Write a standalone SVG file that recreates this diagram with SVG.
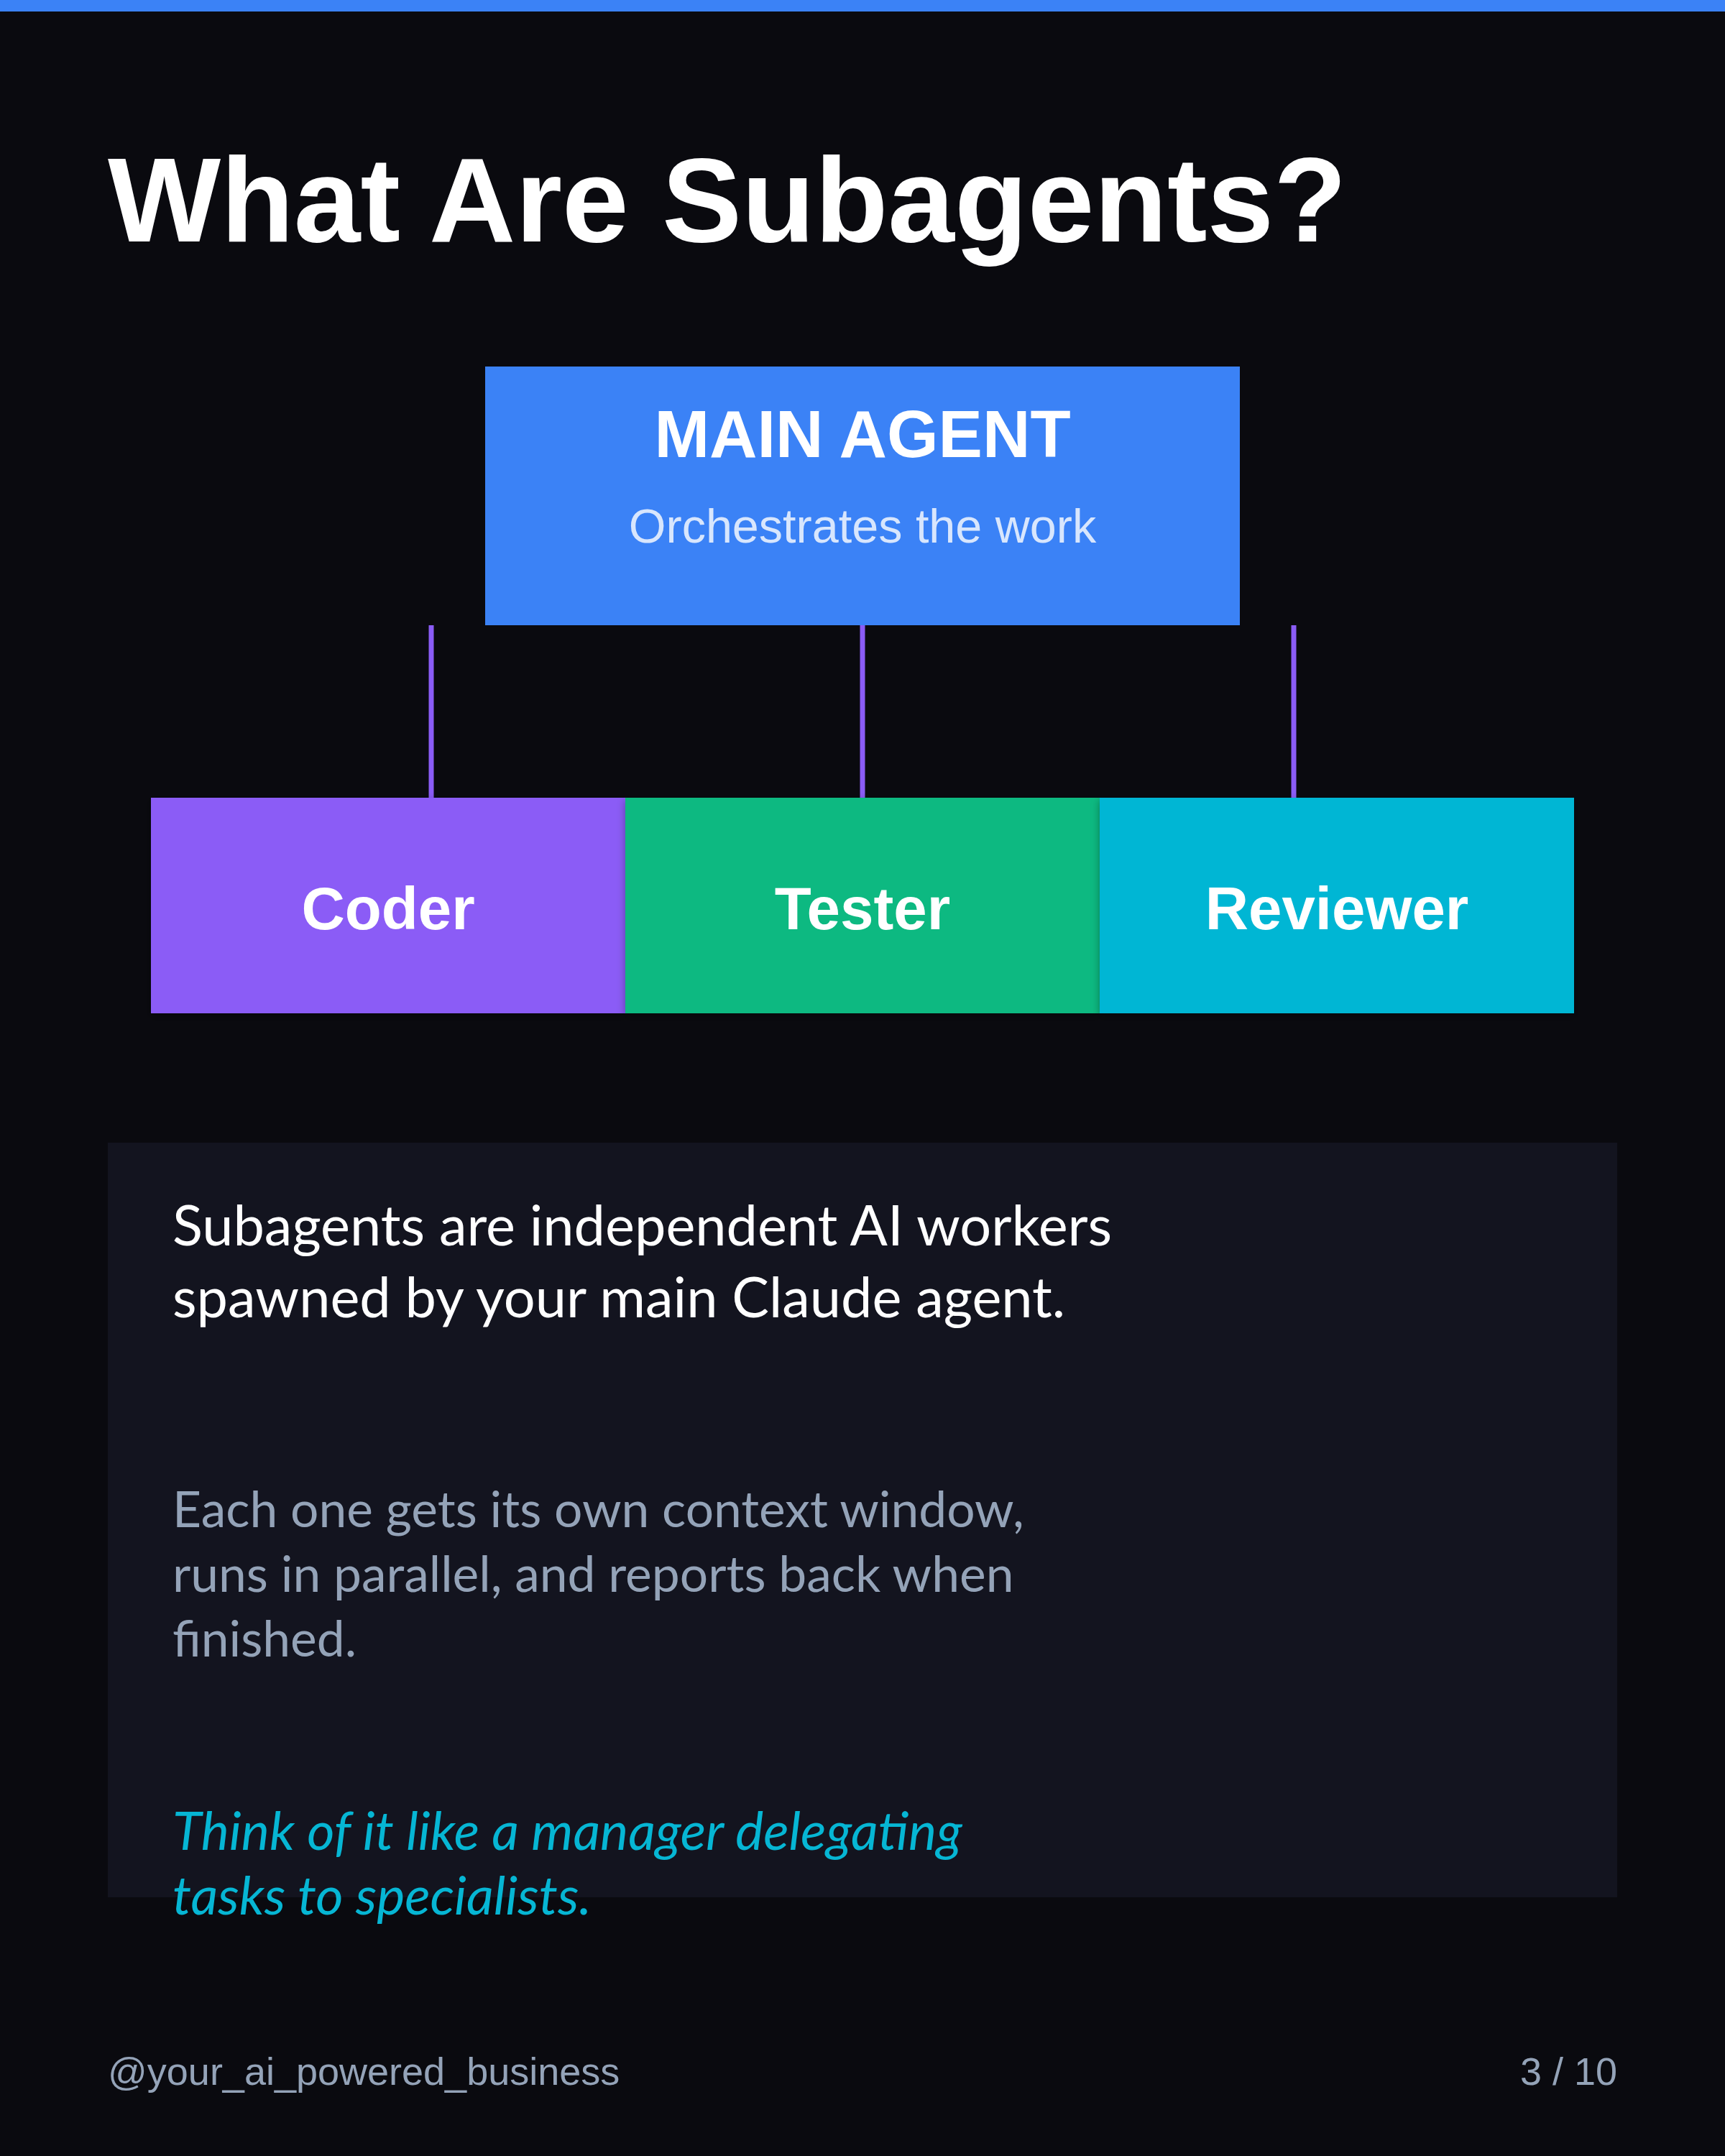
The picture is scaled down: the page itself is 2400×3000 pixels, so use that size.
<svg xmlns="http://www.w3.org/2000/svg" width="2400" height="3000" viewBox="0 0 2400 3000">
  <defs>
    <filter id="shadow" x="-10%" y="-10%" width="120%" height="130%">
      <feDropShadow dx="0" dy="4" stdDeviation="6" flood-color="#000000" flood-opacity="0.35"/>
    </filter>
    <style>
      .sans { font-family: "Liberation Sans", Arial, sans-serif; }
      .lato { font-family: Lato, "Noto Sans", sans-serif; }
      .title { font-weight: 700; font-size: 166.5px; fill: #ffffff; }
      .main-title { font-weight: 700; font-size: 92px; fill: #ffffff; }
      .main-sub { font-size: 66.5px; fill: #d8e6fd; }
      .sub-label { font-weight: 700; font-size: 83.5px; fill: #ffffff; }
      .conn { stroke: #8b5cf6; stroke-width: 7; fill: none; }
      .body1 { font-size: 77.5px; fill: #ffffff; }
      .body2 { font-size: 69.5px; fill: #94a3b8; }
      .body3 { font-size: 73.8px; fill: #06b6d4; font-style: italic; }
      .footer { font-size: 54px; fill: #94a3b8; }
    </style>
  </defs>

  <rect x="0" y="0" width="2400" height="3000" fill="#0a0a0f"/>
  <rect x="0" y="0" width="2400" height="16" fill="#3b82f6"/>

  <text class="sans title" x="150" y="336">What Are Subagents?</text>

  <g id="connectors">
    <line class="conn" x1="600" y1="870" x2="600" y2="1110"/>
    <line class="conn" x1="1200" y1="870" x2="1200" y2="1110"/>
    <line class="conn" x1="1800" y1="870" x2="1800" y2="1110"/>
  </g>

  <g id="main-agent">
    <rect x="675" y="510" width="1050" height="360" fill="#3b82f6"/>
    <text class="sans main-title" x="1200" y="636" text-anchor="middle">MAIN AGENT</text>
    <text class="sans main-sub" x="1200" y="755" text-anchor="middle">Orchestrates the work</text>
  </g>

  <g id="coder">
    <rect x="210" y="1110" width="660" height="300" fill="#8b5cf6" filter="url(#shadow)"/>
    <text class="sans sub-label" x="540" y="1293" text-anchor="middle">Coder</text>
  </g>
  <g id="tester">
    <rect x="870" y="1110" width="660" height="300" fill="#10b981" filter="url(#shadow)"/>
    <text class="sans sub-label" x="1200" y="1293" text-anchor="middle">Tester</text>
  </g>
  <g id="reviewer">
    <rect x="1530" y="1110" width="660" height="300" fill="#06b6d4" filter="url(#shadow)"/>
    <text class="sans sub-label" x="1860" y="1293" text-anchor="middle">Reviewer</text>
  </g>

  <g id="card">
    <rect x="150" y="1590" width="2100" height="1050" fill="#13141f"/>
    <text class="lato body1" x="240" y="1733">Subagents are independent AI workers</text>
    <text class="lato body1" x="240" y="1833">spawned by your main Claude agent.</text>
    <text class="lato body2" x="240" y="2125">Each one gets its own context window,</text>
    <text class="lato body2" x="240" y="2215">runs in parallel, and reports back when</text>
    <text class="lato body2" x="240" y="2305">finished.</text>
    <text class="lato body3" x="240" y="2574">Think of it like a manager delegating</text>
    <text class="lato body3" x="240" y="2664">tasks to specialists.</text>
  </g>

  <text class="sans footer" x="150" y="2901">@your_ai_powered_business</text>
  <text class="sans footer" x="2250" y="2901" text-anchor="end">3 / 10</text>
</svg>
